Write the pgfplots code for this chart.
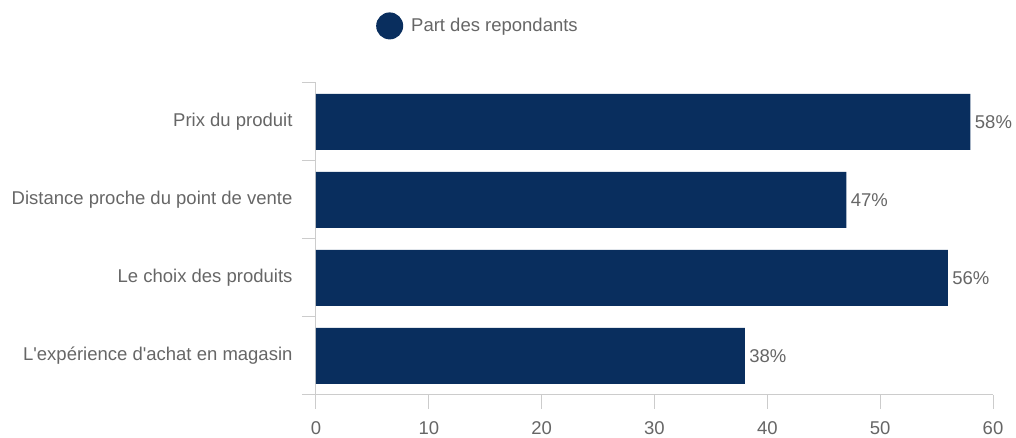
\documentclass[border=0pt]{standalone}
\usepackage{pgfplots}
\pgfplotsset{compat=1.18}
\usepackage{fontspec}
\setmainfont{Liberation Sans}
\definecolor{barblue}{RGB}{9,46,94}
\definecolor{txtgray}{RGB}{102,102,102}
\definecolor{linegray}{RGB}{204,204,204}
\begin{document}
\begin{tikzpicture}[x=1bp,y=1bp]
\path[use as bounding box] (-316,-43) rectangle (700,395);
\begin{axis}[
  at={(0,0)}, anchor=south west,
  width=677bp, height=312bp, scale only axis,
  font=\fontsize{18.5bp}{22bp}\selectfont,
  /pgf/number format/assume math mode=true,
  xbar, bar width=56bp,
  xmin=0, xmax=60,
  ymin=-0.5, ymax=3.5,
  axis x line*=bottom, axis y line*=left,
  axis line style={linegray, line width=1bp, -},
  xtick={0,10,...,60},
  ytick={-0.5,0.5,...,3.5},
  yticklabels={},
  extra y ticks={0,1,2,3},
  extra y tick labels={L\textquotesingle expérience d\textquotesingle achat en magasin, Le choix des produits, Distance proche du point de vente, Prix du produit},
  extra y tick style={tick style={draw=none}, yticklabel style={xshift=-6bp}},
  tick align=outside,
  major tick length=14bp,
  tick style={linegray, line width=1bp},
  ticklabel style={text=txtgray},
  xticklabel style={yshift=-9bp},
  nodes near coords={\pgfmathprintnumber\pgfplotspointmeta\%},
  nodes near coords style={text=txtgray, anchor=west, xshift=1bp},
  point meta=x,
  legend style={at={(axis description cs:0.0886,1.183)}, anchor=west, draw=none, fill=none,
    font=\fontsize{18.5bp}{22bp}\selectfont, text=txtgray, inner sep=0pt},
  legend image code/.code={\fill[barblue] (2bp,0) circle (13.5bp); \path (21.5bp,0);},
  clip=false,
]
\addplot[fill=barblue, draw=none] coordinates {(38,0) (56,1) (47,2) (58,3)};
\addlegendentry{Part des repondants}
\end{axis}
\end{tikzpicture}
\end{document}
